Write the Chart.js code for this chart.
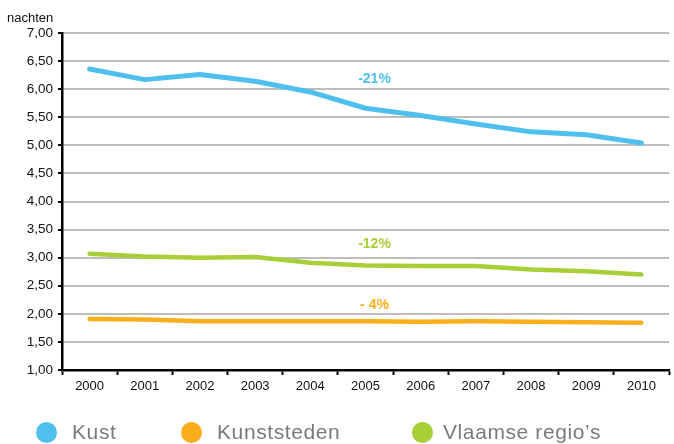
<!DOCTYPE html>
<html>
<head>
<meta charset="utf-8">
<script src="https://cdn.jsdelivr.net/npm/chart.js@4/dist/chart.umd.min.js"></script>
<style>
  body { margin: 0; background: #fff; }
  .wrap { position: relative; width: 674px; height: 444px; font-family: "Liberation Sans", Arial, sans-serif; }
  #chart { position: absolute; left: 0; top: 0; }
  .unit { position: absolute; left: 7px; top: 10px; font-size: 13px; color: #111; }
  .legend { position: absolute; top: 420px; font-size: 21px; letter-spacing: 0.6px; color: #7a7a7a; }
  .legend span.dot { position: absolute; width: 21px; height: 21px; border-radius: 50%; top: 2px; }
  .legend span.txt { position: absolute; white-space: nowrap; }
</style>
</head>
<body>
<div class="wrap">
  <canvas id="chart" width="674" height="444"></canvas>
  <div class="unit">nachten</div>
  <div class="legend" style="left:36px"><span class="dot" style="background:#4fc0ee"></span><span class="txt" style="left:36px">Kust</span></div>
  <div class="legend" style="left:181px"><span class="dot" style="background:#fbae1b"></span><span class="txt" style="left:36px">Kunststeden</span></div>
  <div class="legend" style="left:412px"><span class="dot" style="background:#a8cf38"></span><span class="txt" style="left:31px">Vlaamse regio’s</span></div>
</div>
<script>
// years on the x axis
const years = ["2000", "2001", "2002", "2003", "2004", "2005", "2006", "2007", "2008", "2009", "2010"];

// average number of nights per series
const kust = [6.36, 6.17, 6.26, 6.14, 5.95, 5.66, 5.53, 5.38, 5.24, 5.19, 5.04];
const kunststeden = [1.91, 1.90, 1.87, 1.87, 1.87, 1.87, 1.86, 1.87, 1.86, 1.85, 1.84];
const vlaamseRegios = [3.07, 3.02, 3.00, 3.01, 2.91, 2.86, 2.85, 2.85, 2.79, 2.76, 2.70];

// change labels: text, year it sits over, value height
const changeLabels = [
  { text: "-21%", year: "2005", value: 6.18, color: "#4fc0ee" },
  { text: "-12%", year: "2005", value: 3.24, color: "#a8cf38" },
  { text: "- 4%", year: "2005", value: 2.16, color: "#fbae1b" },
];

const labelPlugin = {
  id: "changeLabels",
  afterDatasetsDraw(chart) {
    const ctx = chart.ctx;
    const x = chart.scales.x;
    const y = chart.scales.y;
    ctx.save();
    ctx.font = "bold 14px 'Liberation Sans', Arial, sans-serif";
    ctx.textAlign = "center";
    ctx.textBaseline = "middle";
    changeLabels.forEach((l) => {
      ctx.fillStyle = l.color;
      ctx.fillText(l.text, x.getPixelForValue(years.indexOf(l.year)) + 9, y.getPixelForValue(l.value));
    });
    ctx.restore();
  },
};

new Chart(document.getElementById("chart"), {
  type: "line",
  data: {
    labels: years,
    datasets: [
      { label: "Kust", data: kust, borderColor: "#4fc0ee", borderWidth: 5 },
      { label: "Kunststeden", data: kunststeden, borderColor: "#fbae1b", borderWidth: 4.5 },
      { label: "Vlaamse regio's", data: vlaamseRegios, borderColor: "#a8cf38", borderWidth: 4.5 },
    ],
  },
  options: {
    responsive: false,
    animation: false,
    layout: { padding: { top: 33, right: 5, left: 0, bottom: 0 } },
    elements: {
      point: { radius: 0 },
      line: { tension: 0, borderCapStyle: "round", borderJoinStyle: "round" },
    },
    plugins: { legend: { display: false }, tooltip: { enabled: false } },
    scales: {
      x: {
        offset: true,
        grid: { offset: true, drawOnChartArea: false, drawTicks: true, tickLength: 5, tickColor: "#000", tickWidth: 2 },
        border: { color: "#000", width: 2.5 },
        ticks: { color: "#111", padding: 4, maxRotation: 0, font: { size: 13, family: "'Liberation Sans', Arial, sans-serif" } },
        afterFit: (s) => { s.height = 74; },
      },
      y: {
        min: 1,
        max: 7,
        ticks: {
          stepSize: 0.5,
          color: "#111",
          padding: 5,
          font: { size: 13.5, family: "'Liberation Sans', Arial, sans-serif" },
          callback: (v) => v.toFixed(2).replace(".", ","),
        },
        grid: { color: "#bdbdbd", lineWidth: 2, tickLength: 4, tickColor: "#000", tickWidth: 2 },
        border: { color: "#000", width: 2.5 },
        afterFit: (s) => { s.width = 62; },
      },
    },
  },
  plugins: [labelPlugin],
});
</script>
</body>
</html>
